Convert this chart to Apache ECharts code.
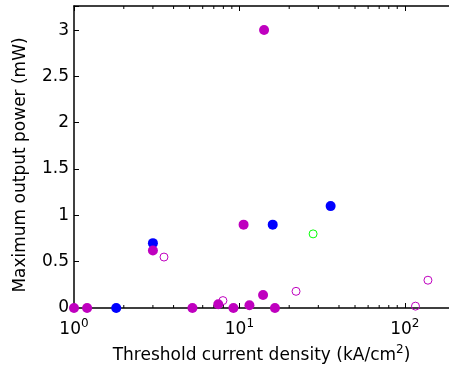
<!DOCTYPE html>
<html><head><meta charset="utf-8">
<script src="https://cdn.jsdelivr.net/npm/echarts@6/dist/echarts.min.js"></script>
<style>html,body{margin:0;padding:0;background:#fff}#c{width:449px;height:366px}</style>
</head><body><div id="c"></div>
<script>
// Data: [threshold current density (kA/cm^2), max output power (mW)]
const magentaFilled = [[1.0,0],[1.2,0],[3.0,0.62],[5.2,0],[7.45,0.04],[9.2,0],[10.6,0.90],[11.5,0.03],[13.9,0.14],[14.1,3.0],[16.4,0]];
const blueFilled = [[1.8,0],[3.0,0.70],[15.9,0.90],[35.6,1.10]];
const magentaOpen = [[3.5,0.55],[7.95,0.08],[22.0,0.18],[116,0.02],[138,0.30]];
const greenOpen = [[27.9,0.80]];
const minorTicks = [2,3,4,5,6,7,8,9,20,30,40,50,60,70,80,90];
const yTicks = [0,0.5,1,1.5,2,2.5,3];
const xMin = 1, xMax = 185, yMin = 0, yMax = 3.26;

const font = 'DejaVu Sans, sans-serif';
const chart = echarts.init(document.getElementById('c'));
function isPow10(v){const l=Math.log10(v);return Math.abs(l-Math.round(l))<1e-6;}
chart.setOption({
  animation:false,
  grid:{left:74,top:6,right:0,bottom:58,containLabel:false,outerBoundsMode:'none'},
  xAxis:[{
    type:'log',logBase:10,min:xMin,max:xMax,position:'bottom',
    name:'Threshold current density (kA/cm{s|2})',nameLocation:'middle',nameGap:35,
    nameTextStyle:{fontFamily:font,fontSize:17,color:'#000',rich:{s:{fontFamily:font,fontSize:12,color:'#000',padding:[0,0,12,0]}}},
    axisLine:{lineStyle:{color:'#000',width:1.5}},
    axisTick:{inside:true,length:5,lineStyle:{color:'#000'}},
    axisLabel:{margin:10,fontFamily:font,fontSize:17,color:'#000',
      formatter:function(v){if(!isPow10(v))return '';return '{b|10}{s|'+Math.round(Math.log10(v))+'}';},
      rich:{b:{fontFamily:font,fontSize:17,color:'#000'},s:{fontFamily:font,fontSize:12,color:'#000',padding:[0,0,12,0]}}},
    splitLine:{show:false}
  },{
    type:'log',logBase:10,min:xMin,max:xMax,position:'top',
    axisLine:{lineStyle:{color:'#000',width:1.5}},
    axisTick:{inside:true,length:5,lineStyle:{color:'#000'}},
    axisLabel:{show:false},splitLine:{show:false}
  }],
  yAxis:{
    type:'value',min:yMin,max:yMax,interval:0.5,
    name:'Maximum output power (mW)',nameLocation:'middle',nameGap:45,
    nameTextStyle:{fontFamily:font,fontSize:17,color:'#000',padding:[0,16,0,0]},
    axisLine:{lineStyle:{color:'#000',width:1.5}},
    axisTick:{inside:true,length:5,lineStyle:{color:'#000'}},
    axisLabel:{margin:5,fontFamily:font,fontSize:17,color:'#000',
      formatter:function(v){return yTicks.indexOf(v)>=0?String(v):'';}},
    splitLine:{show:false}
  },
  series:[
    {type:'custom',xAxisIndex:0,silent:true,clip:false,data:minorTicks.map(v=>[v]),
     renderItem:function(params,api){
       const v=api.value(0);
       const b=api.coord([v,yMin]);const t=api.coord([v,yMax]);
       return {type:'group',children:[
         {type:'line',shape:{x1:b[0],y1:b[1],x2:b[0],y2:b[1]-3},style:{stroke:'#000',lineWidth:1}},
         {type:'line',shape:{x1:t[0],y1:t[1],x2:t[0],y2:t[1]+3},style:{stroke:'#000',lineWidth:1}}
       ]};
     }},
    {type:'scatter',data:blueFilled,symbol:'circle',symbolSize:10,itemStyle:{color:'#0000ff',opacity:1}},
    {type:'scatter',data:magentaFilled,symbol:'circle',symbolSize:10,itemStyle:{color:'#bf00bf',opacity:1}},
    {type:'scatter',data:magentaOpen,symbol:'circle',symbolSize:8,itemStyle:{color:'rgba(0,0,0,0)',borderColor:'#bf00bf',borderWidth:1,opacity:1}},
    {type:'scatter',data:greenOpen,symbol:'circle',symbolSize:8,itemStyle:{color:'rgba(0,0,0,0)',borderColor:'#00ff00',borderWidth:1,opacity:1}}
  ]
});
</script></body></html>
